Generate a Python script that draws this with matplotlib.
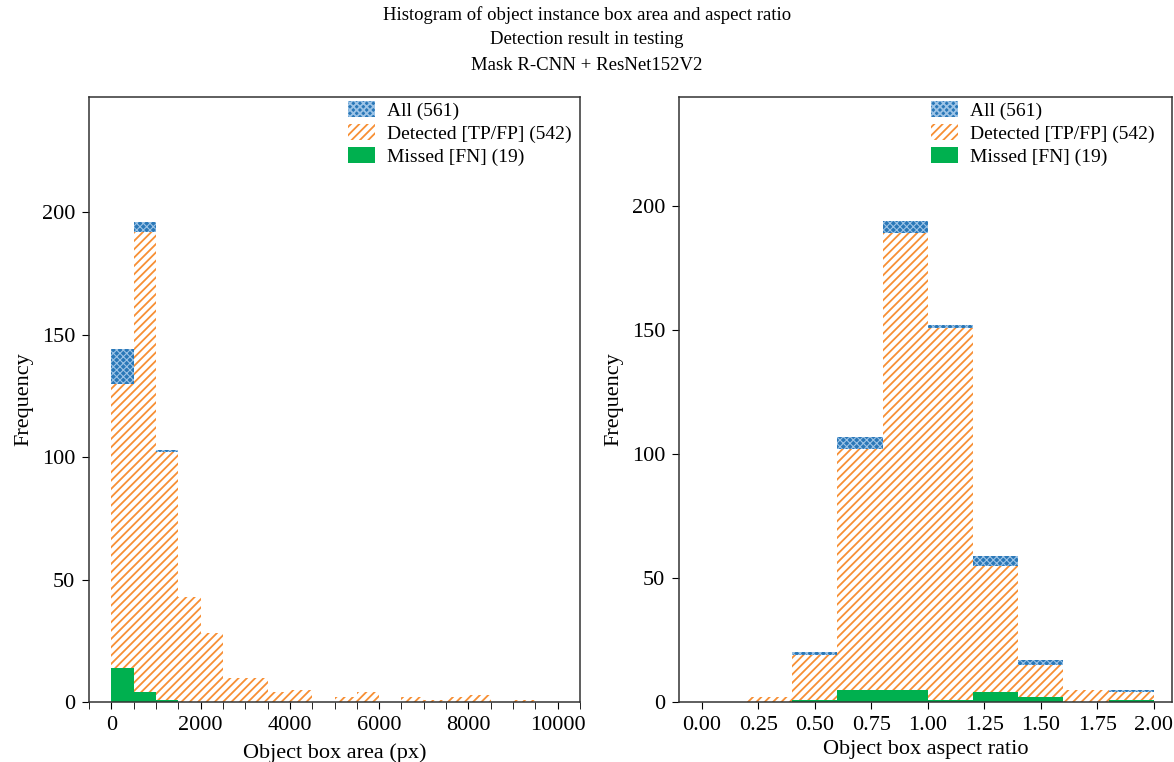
import numpy as np
import matplotlib
matplotlib.use("Agg")
import matplotlib.pyplot as plt
from matplotlib.ticker import MultipleLocator

# ---- data ----
area_edges = np.arange(0, 10001, 500)
area_all = [144, 196, 103, 43, 28, 10, 10, 4, 5, 0, 2, 4, 0, 2, 1, 2, 3, 0, 1, 0]
area_det = [130, 192, 102, 43, 28, 10, 10, 4, 5, 0, 2, 4, 0, 2, 1, 2, 3, 0, 1, 0]
area_miss = [14, 4, 1, 0, 0, 0, 0, 0, 0, 0, 0, 0, 0, 0, 0, 0, 0, 0, 0, 0]

ratio_edges = np.round(np.arange(0, 2.0001, 0.2), 2)
ratio_all = [0, 2, 20, 107, 194, 152, 59, 17, 5, 5]
ratio_det = [0, 2, 19, 102, 189, 151, 55, 15, 5, 4]
ratio_miss = [0, 0, 1, 5, 5, 1, 4, 2, 0, 1]

labels = ["All (561)", "Detected [TP/FP] (542)", "Missed [FN] (19)"]
title_lines = ["Histogram of object instance box area and aspect ratio",
               "Detection result in testing",
               "Mask R-CNN + ResNet152V2"]

plt.rcParams['font.family'] = ['Liberation Serif', 'DejaVu Serif']
plt.rcParams['hatch.linewidth'] = 1.3

BLUE = '#2a78b8'
BLUE_H = '#9cc3e6'
ORANGE = '#f78f34'
GREEN = '#00b04f'

fig = plt.figure(figsize=(11.74, 7.62), dpi=100)
W, H = 1174, 762
def ax_rect(l, r, t, b):
    return [l / W, 1 - b / H, (r - l) / W, (b - t) / H]

axL = fig.add_axes(ax_rect(89, 580, 97, 702))
axR = fig.add_axes(ax_rect(679, 1172, 97, 702))

def draw(ax, edges, a, d, m, legx):
    centers = (edges[:-1] + edges[1:]) / 2
    _, _, p1 = ax.hist(centers, bins=edges, weights=a, facecolor=BLUE,
                       edgecolor=BLUE_H, hatch='xxxxx', linewidth=0, label=labels[0])
    _, _, p2 = ax.hist(centers, bins=edges, weights=d, facecolor='white',
                       edgecolor=ORANGE, hatch='////', linewidth=0, label=labels[1])
    _, _, p3 = ax.hist(centers, bins=edges, weights=m, facecolor=GREEN,
                       edgecolor=GREEN, linewidth=0, label=labels[2])
    for p in p1:
        try:
            p.set_hatch_linewidth(0.8)
        except Exception:
            pass
    ax.set_ylabel("Frequency", fontsize=16, labelpad=6)
    ax.set_yticks([0, 50, 100, 150, 200])
    ax.tick_params(labelsize=16, length=5, direction='out', pad=5)
    ax.tick_params(which='minor', length=5)
    for s in ax.spines.values():
        s.set_linewidth(1.1)
        s.set_color('#333333')
    ax.legend(loc='upper right', bbox_to_anchor=(legx, 1.002), frameon=False,
              fontsize=14, handlelength=1.4, handleheight=0.95, handletextpad=0.6,
              labelspacing=0.2, borderaxespad=0.0, borderpad=0.25)

draw(axL, area_edges, area_all, area_det, area_miss, 0.992)
draw(axR, ratio_edges, ratio_all, ratio_det, ratio_miss, 0.974)

axL.set_xlim(-500, 10500)
axL.set_ylim(0, 247)
axL.xaxis.set_major_locator(MultipleLocator(2000))
axL.xaxis.set_minor_locator(MultipleLocator(500))
axL.set_xlabel("Object box area (px)", fontsize=16, labelpad=6)

axR.set_xlim(-0.1, 2.08)
axR.set_ylim(0, 244)
axR.xaxis.set_major_locator(MultipleLocator(0.25))
axR.set_xlabel("Object box aspect ratio", fontsize=16, labelpad=4)

for i, t in enumerate(title_lines):
    fig.text(0.5, 1 - (15 + 25 * i) / H, t, ha='center', va='center', fontsize=13.5)

fig.savefig("out.png", dpi=100)
